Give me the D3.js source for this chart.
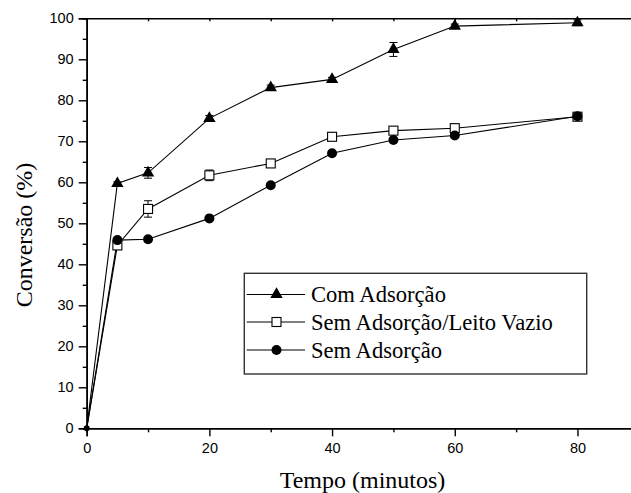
<!DOCTYPE html>
<html><head><meta charset="utf-8">
<script src="https://cdn.jsdelivr.net/npm/d3@7"></script>
<style>body{margin:0;background:#fff}svg{display:block}</style>
</head><body>
<svg id="c" width="631" height="493"></svg>
<script>
const times = [0, 5, 10, 20, 30, 40, 50, 60, 80];
const comAds = [0, 59.7, 62.3, 75.6, 83.1, 85.1, 92.4, 98.1, 98.9];
const comAdsErr = [0, 0.4, 1.3, 0.7, 0.6, 0.5, 1.7, 0.5, 0.7];
const semAdsLeito = [0, 44.6, 53.5, 61.7, 64.6, 71.1, 72.6, 73.2, 76.0];
const semAdsLeitoErr = [0, 1.0, 2.0, 1.3, 0.6, 0.9, 0.5, 1.0, 0.3];
const semAds = [0, 45.9, 46.1, 51.2, 59.3, 67.1, 70.3, 71.4, 76.1];
const semAdsErr = [0, 0.3, 0.3, 0.3, 0.3, 0.3, 0.3, 0.3, 0.3];
const legendLabels = ["Com Adsorção", "Sem Adsorção/Leito Vazio", "Sem Adsorção"];
const xTicks = [0, 20, 40, 60, 80];
const yTicks = [0, 10, 20, 30, 40, 50, 60, 70, 80, 90, 100];

const serif = "'Liberation Serif', 'Times New Roman', serif";
const sans = "'Liberation Sans', Arial, sans-serif";

const svg = d3.select("#c");
const x = d3.scaleLinear().domain([0, 90]).range([86.7, 638.8]);
const y = d3.scaleLinear().domain([0, 100]).range([428.3, 18.3]);

// axes
const yAxis = d3.axisLeft(y).tickValues(yTicks).tickSize(8).tickPadding(5).tickFormat(d3.format("d"));
svg.append("g").attr("transform", `translate(${x(0)},0)`).call(yAxis);
const yMinor = d3.axisLeft(y).tickValues(d3.range(5, 100, 10)).tickSize(4).tickFormat("");
svg.append("g").attr("transform", `translate(${x(0)},0)`).call(yMinor);

const xAxis = d3.axisBottom(x).tickValues(xTicks).tickSize(8).tickPadding(6).tickFormat(d3.format("d"));
svg.append("g").attr("transform", `translate(0,${y(0)})`).call(xAxis);
const xMinor = d3.axisBottom(x).tickValues([10, 30, 50, 70]).tickSize(4).tickFormat("");
svg.append("g").attr("transform", `translate(0,${y(0)})`).call(xMinor);

const xTop = d3.axisTop(x).tickValues(d3.range(10, 90, 10)).tickSize(-3).tickFormat("");
svg.append("g").attr("transform", `translate(0,${y(100)})`).call(xTop);

svg.selectAll(".domain").attr("stroke", "#000").attr("stroke-width", 1.6);
svg.selectAll(".tick line").attr("stroke", "#000").attr("stroke-width", 1.4);
svg.selectAll(".tick text").attr("font-family", sans).attr("font-size", 14.5).attr("fill", "#000");

// axis titles
svg.append("text").attr("x", 362.5).attr("y", 488).attr("text-anchor", "middle")
  .attr("font-family", serif).attr("font-size", 24).text("Tempo (minutos)");
svg.append("text").attr("transform", "translate(32,235) rotate(-90)").attr("text-anchor", "middle")
  .attr("font-family", serif).attr("font-size", 24).text("Conversão (%)");

const series = [
  {vals: comAds, err: comAdsErr, sym: "tri"},
  {vals: semAdsLeito, err: semAdsLeitoErr, sym: "sq"},
  {vals: semAds, err: semAdsErr, sym: "circ"}
];
const line = d3.line().x(d => x(d[0])).y(d => y(d[1]));

function marker(g, sym, cx, cy) {
  if (sym === "tri") {
    g.append("path").attr("d", d3.symbol().type(d3.symbolTriangle).size(66)())
      .attr("transform", `translate(${cx},${cy})`).attr("fill", "#000");
  } else if (sym === "sq") {
    g.append("rect").attr("x", cx - 4.5).attr("y", cy - 4.5).attr("width", 9).attr("height", 9)
      .attr("fill", "#fff").attr("stroke", "#000").attr("stroke-width", 1.1);
  } else {
    g.append("circle").attr("cx", cx).attr("cy", cy).attr("r", 5).attr("fill", "#000");
  }
}

series.forEach(s => {
  const pts = times.map((t, i) => [t, s.vals[i]]);
  svg.append("path").attr("d", line(pts)).attr("fill", "none").attr("stroke", "#000").attr("stroke-width", 1.1);
});
series.forEach(s => {
  const g = svg.append("g");
  times.forEach((t, i) => {
    if (i === 0) return;
    const e = s.err[i];
    const cx = x(t), y1 = y(s.vals[i] + e), y2 = y(s.vals[i] - e);
    g.append("line").attr("x1", cx).attr("x2", cx).attr("y1", y1).attr("y2", y2).attr("stroke", "#000").attr("stroke-width", 1);
    [y1, y2].forEach(yy => g.append("line").attr("x1", cx - 4).attr("x2", cx + 4).attr("y1", yy).attr("y2", yy).attr("stroke", "#000").attr("stroke-width", 1));
  });
  times.forEach((t, i) => { if (i > 0) marker(g, s.sym, x(t), y(s.vals[i])); });
});
// point at origin
svg.append("circle").attr("cx", x(0)).attr("cy", y(0)).attr("r", 3).attr("fill", "#000");

// legend
const lg = svg.append("g");
lg.append("rect").attr("x", 244.3).attr("y", 273.3).attr("width", 342.4).attr("height", 100.7)
  .attr("fill", "#fff").attr("stroke", "#333").attr("stroke-width", 1.4);
const ly = [294.5, 322, 350];
series.forEach((s, i) => {
  lg.append("line").attr("x1", 246.7).attr("x2", 305).attr("y1", ly[i]).attr("y2", ly[i]).attr("stroke", "#000").attr("stroke-width", 1.1);
  marker(lg, s.sym, 276.5, ly[i]);
  lg.append("text").attr("x", 311).attr("y", ly[i] + 7.5).attr("font-family", serif)
    .attr("font-size", 22.6).text(legendLabels[i]);
});
</script>
</body></html>
